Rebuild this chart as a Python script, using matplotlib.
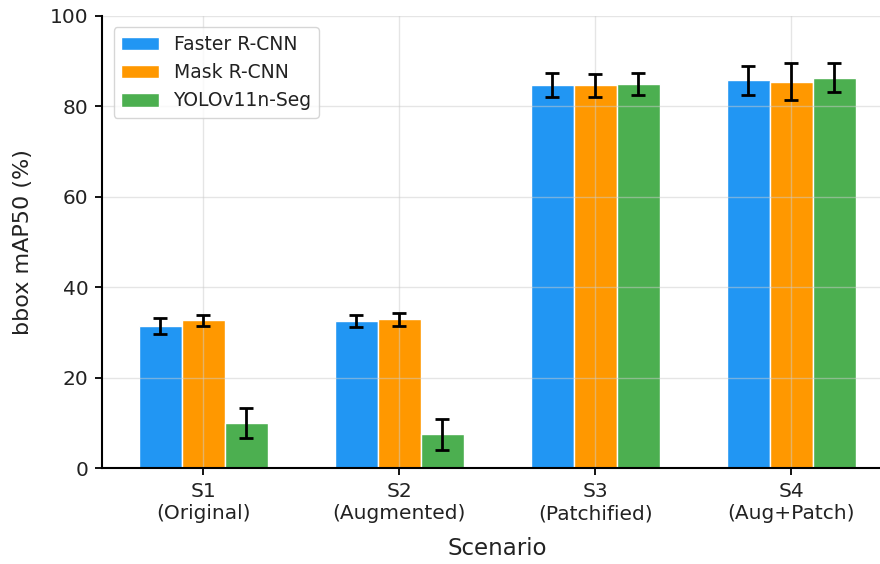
import matplotlib
matplotlib.use("Agg")
import matplotlib.pyplot as plt
import numpy as np

scenarios = ["S1\n(Original)", "S2\n(Augmented)", "S3\n(Patchified)", "S4\n(Aug+Patch)"]
models = ["Faster R-CNN", "Mask R-CNN", "YOLOv11n-Seg"]
faster_mean = [31.5, 32.6, 84.7, 85.8]
faster_err = [1.8, 1.3, 2.7, 3.2]
mask_mean = [32.7, 32.9, 84.7, 85.5]
mask_err = [1.3, 1.5, 2.5, 4.1]
yolo_mean = [10.1, 7.5, 85.0, 86.4]
yolo_err = [3.3, 3.5, 2.5, 3.1]
colors = ["#2196F3", "#FF9800", "#4CAF50"]

means = [faster_mean, mask_mean, yolo_mean]
errs = [faster_err, mask_err, yolo_err]

fig = plt.figure(figsize=(8.8, 5.64), dpi=100)
ax = fig.add_axes([102.3 / 880, 95.7 / 564, 790 / 880, 452.3 / 564])

x = np.arange(len(scenarios))
w = 0.22
for i, (m, e, c, lab) in enumerate(zip(means, errs, colors, models)):
    ax.bar(x + (i - 1) * w, m, w, yerr=e, color=c, edgecolor="white", linewidth=1,
           label=lab, capsize=5.2,
           error_kw=dict(ecolor="black", elinewidth=2, capthick=2))

ax.set_xticks(x)
ax.set_xticklabels(scenarios, fontsize=14.5, color="#222222")
ax.tick_params(axis="y", labelsize=14.5, labelcolor="#222222")
ax.tick_params(length=5, width=1.3, pad=5)
ax.set_ylim(0, 100)
ax.set_xlim(-0.515, 3.515)
ax.set_ylabel("bbox mAP50 (%)", fontsize=16, color="#222222", labelpad=12)
ax.set_xlabel("Scenario", fontsize=16.5, color="#222222", labelpad=10)
ax.grid(True, color="#cccccc", alpha=0.5, linewidth=1)
for s in ["top", "right"]:
    ax.spines[s].set_visible(False)
ax.spines["left"].set_linewidth(1.5)
ax.spines["bottom"].set_linewidth(1.5)
leg = ax.legend(loc="upper left", fontsize=13.5, frameon=True, edgecolor="#cccccc",
                borderaxespad=0.6)
for t in leg.get_texts():
    t.set_color("#222222")

fig.savefig("out.png", dpi=100)
